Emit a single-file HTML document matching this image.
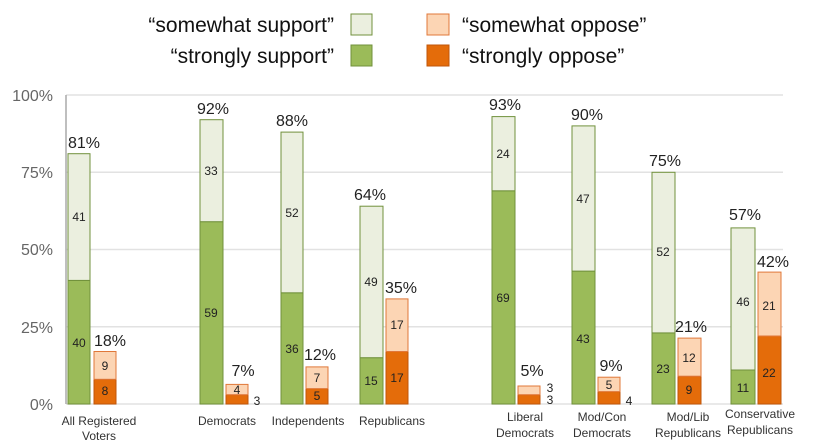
<!DOCTYPE html>
<html><head><meta charset="utf-8"><style>
body{margin:0;background:#fff}
svg{display:block;font-family:"Liberation Sans",sans-serif}
.v{font-size:12px;fill:#222;text-anchor:middle}
.p{font-size:16px;fill:#222;text-anchor:middle}
.c{font-size:12px;fill:#333;text-anchor:middle}
.y{font-size:16px;fill:#666;text-anchor:end}
.lg{font-size:21px;fill:#111}
.sg{fill:#9bbb59;stroke:#71913c;stroke-width:1}
.lg2{fill:#ebefdf;stroke:#71913c;stroke-width:1}
.so{fill:#e46c0a;stroke:#c0560a;stroke-width:1}
.lo{fill:#fcd5b4;stroke:#e0783a;stroke-width:1}
</style></head><body>
<svg width="816" height="447" viewBox="0 0 816 447">
<g stroke="#e2e2e2" stroke-width="1.5">
<line x1="66" x2="783" y1="95" y2="95"/><line x1="66" x2="783" y1="172.3" y2="172.3"/>
<line x1="66" x2="783" y1="249.5" y2="249.5"/><line x1="66" x2="783" y1="326.8" y2="326.8"/>
<line x1="66" x2="783" y1="404" y2="404"/>
</g>
<line x1="66" x2="66" y1="95" y2="404" stroke="#aaa" stroke-width="1.5"/>
<text class="y" x="53" y="101">100%</text><text class="y" x="53" y="178">75%</text>
<text class="y" x="53" y="255">50%</text><text class="y" x="53" y="333">25%</text>
<text class="y" x="53" y="410">0%</text>

<text class="lg" x="334" y="32" text-anchor="end">“somewhat support”</text>
<text class="lg" x="334" y="63" text-anchor="end">“strongly support”</text>
<rect class="lg2" x="351" y="14" width="21" height="21"/>
<rect class="sg" x="351" y="45" width="21" height="21"/>
<rect class="lo" x="427" y="14" width="22" height="21"/>
<rect class="so" x="427" y="45" width="22" height="21"/>
<text class="lg" x="462" y="32">“somewhat oppose”</text>
<text class="lg" x="462" y="63">“strongly oppose”</text>

<rect class="sg" x="68" y="280.4" width="22" height="123.6"/><rect class="lg2" x="68" y="153.7" width="22" height="126.7"/>
<rect class="so" x="94" y="379.3" width="22" height="24.7"/><rect class="lo" x="94" y="351.5" width="22" height="27.8"/>
<text class="v" x="79" y="347">40</text><text class="v" x="79" y="221">41</text>
<text class="v" x="105" y="395">8</text><text class="v" x="105" y="370">9</text>
<text class="p" x="84" y="148">81%</text><text class="p" x="110" y="346">18%</text>
<text class="c" x="99" y="425">All Registered</text><text class="c" x="99" y="440">Voters</text>

<rect class="sg" x="200" y="221.7" width="23" height="182.3"/><rect class="lg2" x="200" y="119.7" width="23" height="102"/>
<rect class="so" x="226" y="394.7" width="22" height="9.3"/><rect class="lo" x="226" y="384.4" width="22" height="10.3"/>
<text class="v" x="211" y="317">59</text><text class="v" x="211" y="175">33</text>
<text class="v" x="237" y="394">4</text><text class="v" x="257" y="405">3</text>
<text class="p" x="213" y="114">92%</text><text class="p" x="243" y="376">7%</text>
<text class="c" x="227" y="425">Democrats</text>

<rect class="sg" x="281" y="292.8" width="22" height="111.2"/><rect class="lg2" x="281" y="132.1" width="22" height="160.7"/>
<rect class="so" x="306" y="388.6" width="22" height="15.4"/><rect class="lo" x="306" y="366.9" width="22" height="21.7"/>
<text class="v" x="292" y="353">36</text><text class="v" x="292" y="217">52</text>
<text class="v" x="317" y="400">5</text><text class="v" x="317" y="382">7</text>
<text class="p" x="292" y="126">88%</text><text class="p" x="320" y="360">12%</text>
<text class="c" x="308" y="425">Independents</text>

<rect class="sg" x="360" y="357.7" width="23" height="46.3"/><rect class="lg2" x="360" y="206.2" width="23" height="151.5"/>
<rect class="so" x="386" y="351.5" width="22" height="52.5"/><rect class="lo" x="386" y="298.9" width="22" height="52.6"/>
<text class="v" x="371" y="385">15</text><text class="v" x="371" y="286">49</text>
<text class="v" x="397" y="382">17</text><text class="v" x="397" y="329">17</text>
<text class="p" x="370" y="200">64%</text><text class="p" x="401" y="293">35%</text>
<text class="c" x="392" y="425">Republicans</text>

<rect class="sg" x="492" y="190.8" width="23" height="213.2"/><rect class="lg2" x="492" y="116.6" width="23" height="74.2"/>
<rect class="so" x="518" y="394.7" width="22" height="9.3"/><rect class="lo" x="518" y="386" width="22" height="8.7"/>
<text class="v" x="503" y="302">69</text><text class="v" x="503" y="158">24</text>
<text class="v" x="550" y="392">3</text><text class="v" x="550" y="404">3</text>
<text class="p" x="505" y="110">93%</text><text class="p" x="532" y="376">5%</text>
<text class="c" x="525" y="421">Liberal</text><text class="c" x="525" y="437">Democrats</text>

<rect class="sg" x="572" y="271.1" width="23" height="132.9"/><rect class="lg2" x="572" y="125.9" width="23" height="145.2"/>
<rect class="so" x="598" y="391.6" width="22" height="12.4"/><rect class="lo" x="598" y="377.2" width="22" height="14.4"/>
<text class="v" x="583" y="343">43</text><text class="v" x="583" y="203">47</text>
<text class="v" x="609" y="389">5</text><text class="v" x="629" y="405">4</text>
<text class="p" x="587" y="120">90%</text><text class="p" x="611" y="371">9%</text>
<text class="c" x="602" y="421">Mod/Con</text><text class="c" x="602" y="437">Democrats</text>

<rect class="sg" x="652" y="332.9" width="23" height="71.1"/><rect class="lg2" x="652" y="172.3" width="23" height="160.6"/>
<rect class="so" x="678" y="376.2" width="23" height="27.8"/><rect class="lo" x="678" y="338.1" width="23" height="38.1"/>
<text class="v" x="663" y="373">23</text><text class="v" x="663" y="256">52</text>
<text class="v" x="689" y="394">9</text><text class="v" x="689" y="362">12</text>
<text class="p" x="665" y="166">75%</text><text class="p" x="691" y="332">21%</text>
<text class="c" x="688" y="421">Mod/Lib</text><text class="c" x="688" y="437">Republicans</text>

<rect class="sg" x="731" y="370" width="24" height="34"/><rect class="lg2" x="731" y="227.9" width="24" height="142.1"/>
<rect class="so" x="758" y="336" width="23" height="68"/><rect class="lo" x="758" y="272.1" width="23" height="63.9"/>
<text class="v" x="743" y="392">11</text><text class="v" x="743" y="306">46</text>
<text class="v" x="769" y="377">22</text><text class="v" x="769" y="310">21</text>
<text class="p" x="745" y="220">57%</text><text class="p" x="773" y="267">42%</text>
<text class="c" x="760" y="418">Conservative</text><text class="c" x="760" y="434">Republicans</text>
</svg>
</body></html>
